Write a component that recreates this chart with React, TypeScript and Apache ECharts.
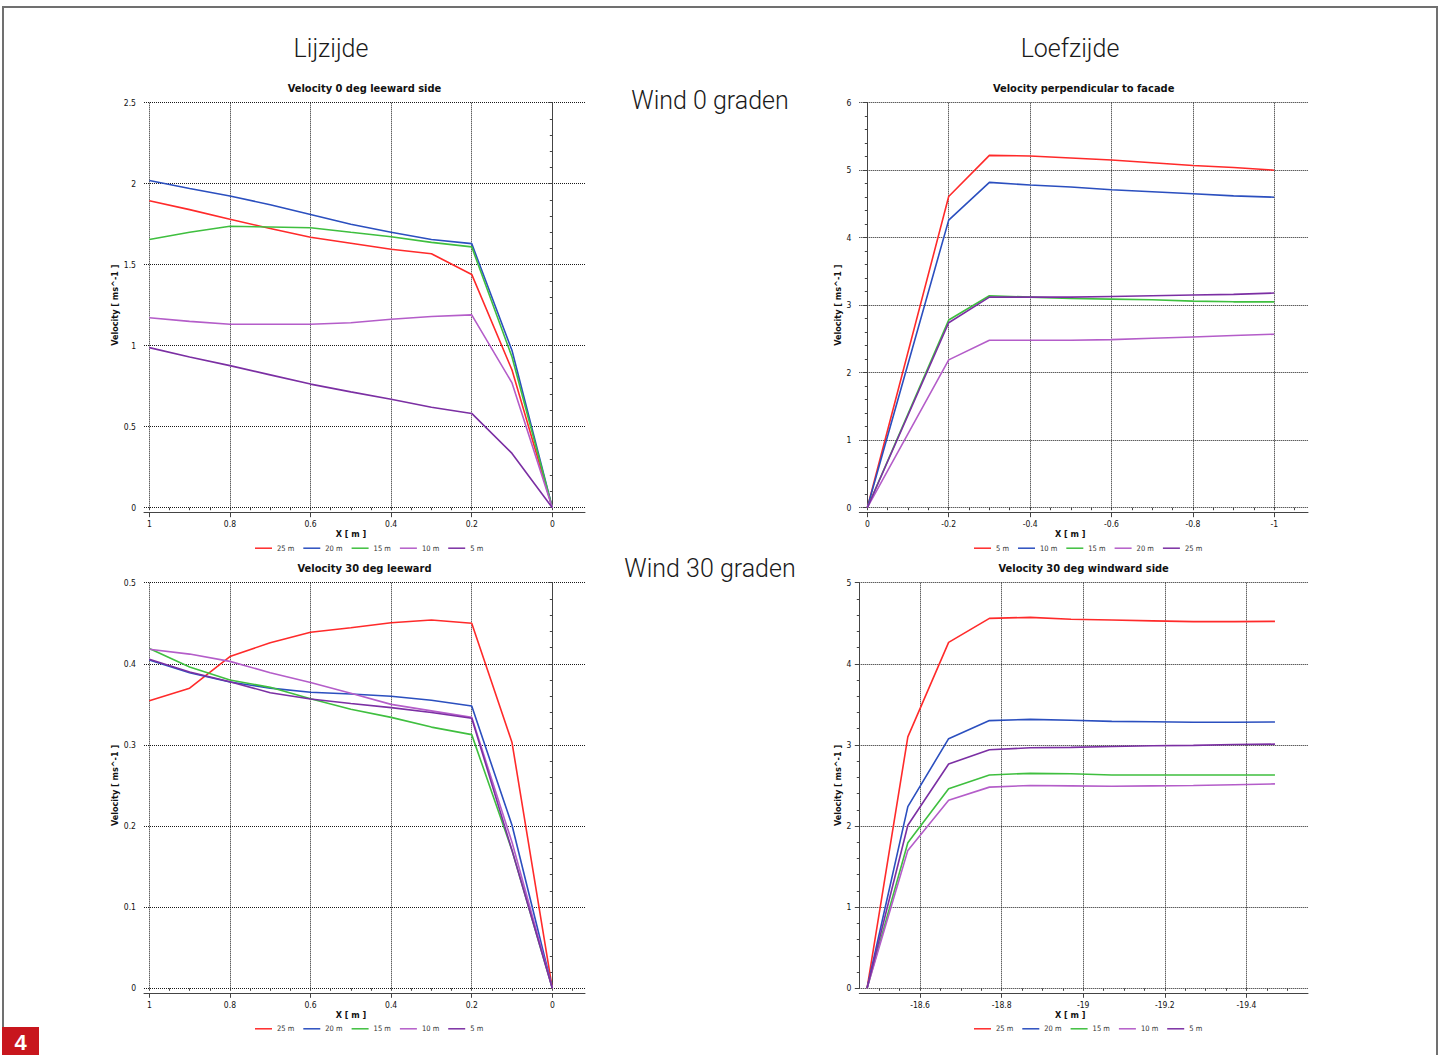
import React, { useEffect, useRef } from 'react';
import * as echarts from 'echarts';

// ---------- x positions ----------
const xLee = [1, 0.9, 0.8, 0.7, 0.6, 0.5, 0.4, 0.3, 0.2, 0.1, 0];
const xFacade = [0, -0.2, -0.3, -0.4, -0.5, -0.6, -0.7, -0.8, -0.9, -1];
const xWind30 = [-18.47, -18.57, -18.67, -18.77, -18.87, -18.97, -19.07, -19.17, -19.27, -19.37, -19.47];

// ---------- tick values ----------
const leeTicks = [1, 0.8, 0.6, 0.4, 0.2, 0];
const leeMinor = [1, 0.95, 0.9, 0.85, 0.8, 0.75, 0.7, 0.65, 0.6, 0.55, 0.5, 0.45, 0.4, 0.35, 0.3, 0.25, 0.2, 0.15, 0.1, 0.05, 0, -0.05];
const facadeTicks = [0, -0.2, -0.4, -0.6, -0.8, -1];
const facadeMinor = [0, -0.05, -0.1, -0.15, -0.2, -0.25, -0.3, -0.35, -0.4, -0.45, -0.5, -0.55, -0.6, -0.65, -0.7, -0.75, -0.8, -0.85, -0.9, -0.95, -1, -1.05];
const wind30Ticks = [-18.6, -18.8, -19, -19.2, -19.4];
const wind30Minor = [-18.5, -18.55, -18.6, -18.65, -18.7, -18.75, -18.8, -18.85, -18.9, -18.95, -19, -19.05, -19.1, -19.15, -19.2, -19.25, -19.3, -19.35, -19.4, -19.45, -19.5];

// ---------- series names ----------
const namesLee = ['25 m', '20 m', '15 m', '10 m', '5 m'];
const namesFacade = ['5 m', '10 m', '15 m', '20 m', '25 m'];

// ---------- Velocity 0 deg leeward side ----------
const lee0_25 = [1.895, 1.84, 1.78, 1.724, 1.669, 1.632, 1.595, 1.568, 1.44, 0.85, 0];
const lee0_20 = [2.02, 1.97, 1.924, 1.87, 1.81, 1.75, 1.7, 1.656, 1.63, 0.97, 0];
const lee0_15 = [1.656, 1.7, 1.737, 1.733, 1.728, 1.7, 1.673, 1.638, 1.61, 0.93, 0];
const lee0_10 = [1.173, 1.15, 1.132, 1.132, 1.132, 1.142, 1.163, 1.18, 1.19, 0.77, 0];
const lee0_5 = [0.988, 0.93, 0.877, 0.82, 0.763, 0.715, 0.669, 0.62, 0.582, 0.335, 0];

// ---------- Velocity perpendicular to facade ----------
const fac_5 = [0, 4.61, 5.22, 5.21, 5.18, 5.15, 5.11, 5.07, 5.04, 5.0];
const fac_10 = [0, 4.26, 4.82, 4.78, 4.75, 4.71, 4.68, 4.65, 4.62, 4.6];
const fac_15 = [0, 2.78, 3.14, 3.12, 3.1, 3.09, 3.08, 3.06, 3.05, 3.05];
const fac_20 = [0, 2.19, 2.48, 2.48, 2.48, 2.49, 2.51, 2.53, 2.55, 2.57];
const fac_25 = [0, 2.74, 3.12, 3.12, 3.12, 3.13, 3.14, 3.15, 3.16, 3.18];

// ---------- Velocity 30 deg leeward ----------
const lee30_25 = [0.3546, 0.37, 0.409, 0.426, 0.439, 0.4445, 0.4507, 0.454, 0.45, 0.303, 0];
const lee30_20 = [0.4047, 0.389, 0.3776, 0.37, 0.365, 0.3628, 0.36, 0.355, 0.348, 0.201, 0];
const lee30_15 = [0.419, 0.396, 0.38, 0.371, 0.357, 0.344, 0.334, 0.322, 0.3127, 0.17, 0];
const lee30_10 = [0.418, 0.412, 0.403, 0.389, 0.377, 0.3636, 0.35, 0.342, 0.334, 0.18, 0];
const lee30_5 = [0.4055, 0.39, 0.378, 0.3644, 0.3566, 0.351, 0.346, 0.34, 0.333, 0.17, 0];

// ---------- Velocity 30 deg windward side ----------
const w30_25 = [0, 3.1, 4.265, 4.56, 4.573, 4.55, 4.54, 4.53, 4.52, 4.52, 4.523];
const w30_20 = [0, 2.24, 3.077, 3.3, 3.315, 3.305, 3.29, 3.285, 3.28, 3.28, 3.283];
const w30_15 = [0, 1.795, 2.46, 2.63, 2.65, 2.645, 2.63, 2.63, 2.63, 2.63, 2.63];
const w30_10 = [0, 1.7, 2.317, 2.48, 2.5, 2.495, 2.49, 2.495, 2.5, 2.51, 2.52];
const w30_5 = [0, 2.01, 2.765, 2.94, 2.966, 2.97, 2.98, 2.99, 2.995, 3.005, 3.01];

const COLORS = ['#ff2a2a', '#2b4fbf', '#3fbf3f', '#b45dc9', '#7b2fa3'];
const FONT = "'DejaVu Sans Condensed', 'DejaVu Sans', sans-serif";
const HEAD_FONT = "Roboto, 'Open Sans', sans-serif";

type Panel = {
  key: string;
  title: string;
  left: number; top: number; width: number; height: number;
  xMin: number; xMax: number;
  xTicks: number[]; xMinor: number[];
  yMax: number; yInterval: number;
  yNameGap: number;
  xs: number[];
  names: string[];
  values: number[][];
  legendLeft: number;
};

const panels: Panel[] = [
  {
    key: 'p1', title: 'Velocity 0 deg leeward side',
    left: 144, top: 102.7, width: 441, height: 405,
    xMin: -0.0811, xMax: 1.0132, xTicks: leeTicks, xMinor: leeMinor,
    yMax: 2.5, yInterval: 0.5, yNameGap: 17,
    xs: xLee, names: namesLee, values: [lee0_25, lee0_20, lee0_15, lee0_10, lee0_5],
    legendLeft: 255,
  },
  {
    key: 'p2', title: 'Velocity perpendicular to facade',
    left: 859.3, top: 102.7, width: 448.7, height: 405,
    xMin: -1.083, xMax: 0.0197, xTicks: facadeTicks, xMinor: facadeMinor,
    yMax: 6, yInterval: 1, yNameGap: 13,
    xs: xFacade, names: namesFacade, values: [fac_5, fac_10, fac_15, fac_20, fac_25],
    legendLeft: 974,
  },
  {
    key: 'p3', title: 'Velocity 30 deg leeward',
    left: 144, top: 582.7, width: 441, height: 405.6,
    xMin: -0.0811, xMax: 1.0132, xTicks: leeTicks, xMinor: leeMinor,
    yMax: 0.5, yInterval: 0.1, yNameGap: 17,
    xs: xLee, names: namesLee, values: [lee30_25, lee30_20, lee30_15, lee30_10, lee30_5],
    legendLeft: 255,
  },
  {
    key: 'p4', title: 'Velocity 30 deg windward side',
    left: 859.3, top: 582.7, width: 448.7, height: 405.6,
    xMin: -19.551, xMax: -18.451, xTicks: wind30Ticks, xMinor: wind30Minor,
    yMax: 5, yInterval: 1, yNameGap: 13,
    xs: xWind30, names: namesLee, values: [w30_25, w30_20, w30_15, w30_10, w30_5],
    legendLeft: 974,
  },
];

function buildOption() {
  const grid: any[] = [];
  const xAxis: any[] = [];
  const yAxis: any[] = [];
  const series: any[] = [];
  const legend: any[] = [];
  const graphic: any[] = [];

  panels.forEach((p, i) => {
    grid.push({ left: p.left, top: p.top, width: p.width, height: p.height, containLabel: false });
    xAxis.push({
      gridIndex: i, type: 'value', inverse: true, min: p.xMin, max: p.xMax,
      offset: 5,
      axisLine: { show: true, onZero: false, lineStyle: { color: '#444', width: 1 } },
      axisTick: { show: true, length: 4.5, customValues: p.xTicks, lineStyle: { color: '#444' } },
      axisLabel: { customValues: p.xTicks, fontSize: 8.5, color: '#111', margin: 7, fontFamily: FONT },
      splitLine: { show: true, lineStyle: { type: 'dotted', color: '#1a1a1a', width: 1 } },
      name: 'X [ m ]', nameLocation: 'middle', nameGap: 17,
      nameTextStyle: { fontWeight: 'bold', fontSize: 9, fontFamily: FONT, color: '#111', padding: [0, 27, 0, 0] },
    });
    yAxis.push({
      gridIndex: i, type: 'value', min: 0, max: p.yMax, interval: p.yInterval,
      axisLine: { show: true, lineStyle: { color: '#444', width: 1 } },
      axisTick: { show: true, length: 4.5, lineStyle: { color: '#444' } },
      minorTick: { show: true, splitNumber: 5, length: 2.5, lineStyle: { color: '#444' } },
      axisLabel: { fontSize: 8.5, color: '#111', margin: 8, fontFamily: FONT },
      splitLine: { show: true, lineStyle: { type: 'dotted', color: '#1a1a1a', width: 1 } },
      name: 'Velocity [ ms^-1 ]', nameLocation: 'middle', nameGap: p.yNameGap,
      nameTextStyle: { fontWeight: 'bold', fontSize: 9, fontFamily: FONT, color: '#111' },
    });
    p.names.forEach((n, k) => {
      series.push({
        type: 'line', name: p.key + '|' + n,
        xAxisIndex: i, yAxisIndex: i,
        symbol: 'none', showSymbol: false, silent: true,
        lineStyle: { width: 1.6, color: COLORS[k] },
        itemStyle: { color: COLORS[k] },
        data: p.xs.map((x, j) => [x, p.values[k][j]]),
        z: 3,
      });
    });
    legend.push({
      data: p.names.map((n) => ({ name: p.key + '|' + n, icon: 'rect' })),
      left: p.legendLeft, top: p.top + p.height + 36.5,
      padding: 0, itemWidth: 17, itemHeight: 1.5, itemGap: 9,
      selectedMode: false,
      formatter: (name: string) => name.split('|')[1],
      textStyle: { fontSize: 7.5, color: '#333', fontFamily: FONT, padding: [0, 0, 0, 0] },
    });
    graphic.push({
      type: 'text', x: p.left + p.width / 2, y: p.top - 14.5, silent: true,
      style: { text: p.title, font: `bold 11px ${FONT}`, fill: '#111', align: 'center', verticalAlign: 'middle' },
    });
  });

  // secondary axes for the minor x ticks
  panels.forEach((p, i) => {
    xAxis.push({
      gridIndex: i, type: 'value', inverse: true, min: p.xMin, max: p.xMax,
      position: 'bottom', offset: 5,
      axisLine: { show: false },
      axisTick: { show: true, length: 2.5, customValues: p.xMinor, lineStyle: { color: '#444' } },
      axisLabel: { show: false },
      splitLine: { show: false },
    });
  });

  // headings
  const heads = [
    { text: 'Lijzijde', x: 331, y: 48 },
    { text: 'Loefzijde', x: 1070, y: 48 },
    { text: 'Wind 0 graden', x: 710, y: 100 },
    { text: 'Wind 30 graden', x: 710, y: 568 },
  ];
  heads.forEach((h) => {
    graphic.push({
      type: 'text', x: h.x, y: h.y, silent: true,
      style: { text: h.text, font: `300 25px ${HEAD_FONT}`, fill: '#1a1a1a', align: 'center', verticalAlign: 'middle' },
    });
  });

  // page frame
  graphic.push({
    type: 'polyline', silent: true,
    shape: { points: [[3, 1027], [3, 7], [1437, 7], [1437, 1056]] },
    style: { stroke: '#707070', lineWidth: 2, fill: null },
  });
  // figure number box
  graphic.push({
    type: 'rect', silent: true,
    shape: { x: 2, y: 1027, width: 37, height: 28 },
    style: { fill: '#c8161d' },
  });
  graphic.push({
    type: 'text', x: 20.5, y: 1042, silent: true,
    style: { text: '4', font: "bold 22px 'Liberation Sans', Arial, sans-serif", fill: '#ffffff', align: 'center', verticalAlign: 'middle' },
  });

  return {
    animation: false,
    backgroundColor: '#ffffff',
    grid, xAxis, yAxis, series, legend, graphic,
  };
}

export default function App() {
  const ref = useRef<HTMLDivElement>(null);
  useEffect(() => {
    if (!ref.current) return;
    const chart = echarts.init(ref.current, undefined, { renderer: 'svg' });
    chart.setOption(buildOption() as any);
    return () => chart.dispose();
  }, []);
  return (
    <div
      ref={ref}
      style={{ position: 'absolute', left: 0, top: 0, width: 1439, height: 1055, background: '#fff' }}
    />
  );
}
